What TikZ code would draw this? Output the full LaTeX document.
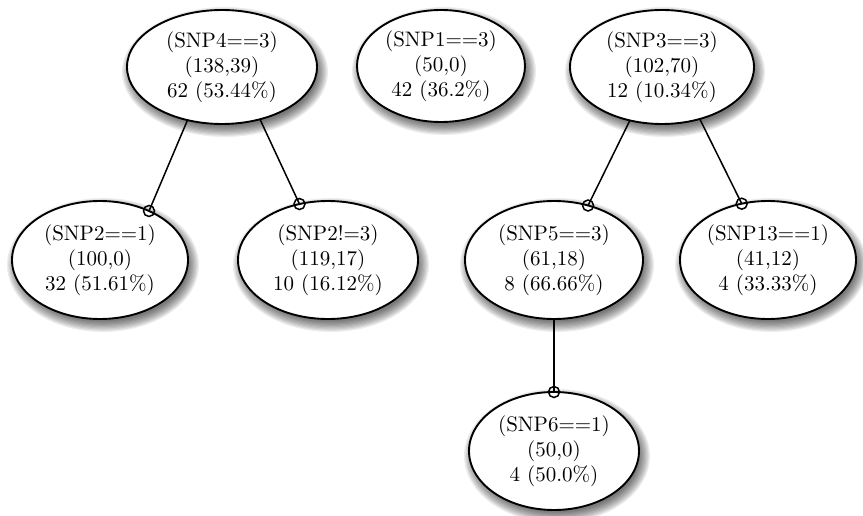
\documentclass[tikz,border=0pt]{standalone}
\usepackage{fontspec}
\setmainfont{lmroman10-regular}[Extension=.otf]
\usetikzlibrary{shapes.geometric}
\tikzset{
  ell/.style={ellipse, draw=black, line width=1.9pt, fill=white, inner sep=0pt, outer sep=0pt},
  conn/.style={line width=1.5pt},
  endtip/.style={circle, draw=black, line width=1.5pt, minimum size=11pt, inner sep=0pt},
  txt/.style={align=center, font=\fontsize{21}{25}\selectfont, inner sep=0pt}
}
\newcommand\snpnode[6]{%
  \foreach \k in {0,...,9}{
    \fill[black, opacity=0.07] (#2+3,#3+5) ellipse [x radius={(#4+8-\k*1.2)*1pt}, y radius={(#5+8-\k*1.2)*1pt}];
  }
  \node[ell, minimum width={2*#4pt}, minimum height={2*#5pt}] (#1) at (#2,#3) {};
  \node[txt] (#1t) at (#1.center) {#6};
}
\begin{document}
\begin{tikzpicture}[x=1pt,y=-1pt]
\useasboundingbox (0,0) rectangle (863,516);
\snpnode{n4}{222}{67}{95}{57}{(SNP4==3)\\(138,39)\\62 (53.44\%)}
\snpnode{n1}{441}{66}{84}{56}{(SNP1==3)\\(50,0)\\42 (36.2\%)}
\snpnode{n3}{662}{67}{92}{57}{(SNP3==3)\\(102,70)\\12 (10.34\%)}
\snpnode{n2a}{100}{260}{88}{59}{(SNP2==1)\\(100,0)\\32 (51.61\%)}
\snpnode{n2b}{328}{260}{90}{59}{(SNP2!=3)\\(119,17)\\10 (16.12\%)}
\snpnode{n5}{554}{260}{89}{59}{(SNP5==3)\\(61,18)\\8 (66.66\%)}
\snpnode{n13}{768}{260}{88}{59}{(SNP13==1)\\(41,12)\\4 (33.33\%)}
\snpnode{n6}{554}{451}{85}{59}{(SNP6==1)\\(50,0)\\4 (50.0\%)}
\draw[conn] (n4.-123) -- (n2a.45) node[endtip] (c1) {};
\draw[conn] (n4.-54) -- (n2b.117) node[endtip] (c2) {};
\draw[conn] (n3.-121) -- (n5.58) node[endtip] (c3) {};
\draw[conn] (n3.-54) -- (n13.115) node[endtip] (c4) {};
\draw[conn] (n5.-90) -- (n6.90) node[endtip] (c5) {};
\end{tikzpicture}
\end{document}
